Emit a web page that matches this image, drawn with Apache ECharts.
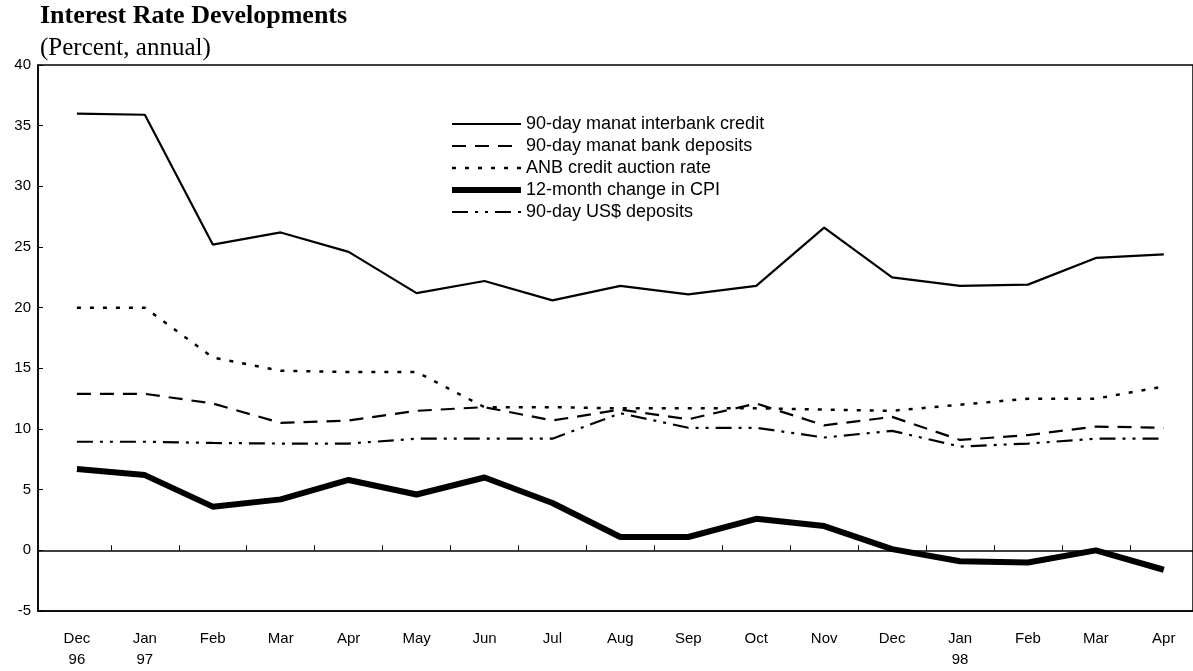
<!DOCTYPE html>
<html>
<head>
  <meta charset="utf-8">
  <title>Interest Rate Developments</title>
  <script src="https://cdn.jsdelivr.net/npm/echarts/dist/echarts.min.js"></script>
  <style>
    html, body { margin: 0; padding: 0; background: #fff; }
    #chart { width: 1193px; height: 671px; }
  </style>
</head>
<body>
<div id="chart"></div>
<script>
  // 月份标签 Dec 96 ... Apr 98
  var months = ['Dec', 'Jan', 'Feb', 'Mar', 'Apr', 'May', 'Jun', 'Jul', 'Aug', 'Sep', 'Oct', 'Nov', 'Dec', 'Jan', 'Feb', 'Mar', 'Apr'];
  var years = ['96', '97', '', '', '', '', '', '', '', '', '', '', '', '98', '', '', ''];
  var yTicks = [-5, 0, 5, 10, 15, 20, 25, 30, 35, 40];

  // 数据 (percent, annual)
  var interbankCredit = [36.0, 35.9, 25.2, 26.2, 24.6, 21.2, 22.2, 20.6, 21.8, 21.1, 21.8, 26.6, 22.5, 21.8, 21.9, 24.1, 24.4];
  var bankDeposits = [12.9, 12.9, 12.1, 10.5, 10.7, 11.5, 11.8, 10.7, 11.6, 10.8, 12.1, 10.3, 11.0, 9.1, 9.5, 10.2, 10.1];
  var anbAuction = [20.0, 20.0, 15.9, 14.8, 14.7, 14.7, 11.8, 11.8, 11.7, 11.7, 11.7, 11.6, 11.5, 12.0, 12.5, 12.5, 13.5];
  var cpiChange = [6.7, 6.2, 3.6, 4.2, 5.8, 4.6, 6.0, 3.9, 1.1, 1.1, 2.6, 2.0, 0.1, -0.9, -1.0, 0.0, -1.6];
  var usdDeposits = [8.95, 8.95, 8.85, 8.8, 8.8, 9.2, 9.2, 9.2, 11.3, 10.1, 10.1, 9.3, 9.85, 8.55, 8.8, 9.2, 9.2];

  var seriesNames = ['90-day manat interbank credit', '90-day manat bank deposits', 'ANB credit auction rate', '12-month change in CPI', '90-day US$ deposits'];

  function toPoints(arr) {
    return arr.map(function (v, i) { return [i, v]; });
  }

  var labelIdx = months.map(function (m, i) { return i; });
  var midIdx = months.slice(1).map(function (m, i) { return i + 0.5; });

  var chartDom = document.getElementById('chart');
  var myChart = echarts.init(chartDom);
  var option;

  option = {
    backgroundColor: '#fff',
    animation: false,
    title: [
      {
        text: 'Interest Rate Developments',
        left: 40,
        top: 3,
        padding: 0,
        textStyle: { fontFamily: 'Liberation Serif', fontSize: 26, fontWeight: 'bold', color: '#000' }
      },
      {
        text: '(Percent, annual)',
        left: 40,
        top: 36,
        padding: 0,
        textStyle: { fontFamily: 'Liberation Serif', fontSize: 25, fontWeight: 'normal', color: '#000' }
      }
    ],
    legend: {
      orient: 'vertical',
      left: 449,
      top: 115,
      padding: 0,
      itemWidth: 69,
      itemHeight: 14,
      itemGap: 4,
      data: seriesNames,
      itemStyle: { opacity: 0 },
      lineStyle: { width: 'inherit' },
      textStyle: { fontFamily: 'Liberation Sans', fontSize: 18, color: '#000' }
    },
    grid: {
      left: 38,
      top: 65,
      right: -3,
      bottom: 60,
      show: true,
      borderColor: '#000',
      borderWidth: 1.5
    },
    xAxis: [
      {
        type: 'value',
        position: 'bottom',
        min: -0.573,
        max: 16.43,
        splitLine: { show: false },
        axisLine: { onZero: false, lineStyle: { color: '#000', width: 1.5 } },
        axisTick: { show: false },
        axisLabel: {
          customValues: labelIdx,
          margin: 17,
          fontFamily: 'Liberation Sans',
          fontSize: 15,
          lineHeight: 21,
          color: '#000',
          formatter: function (v) {
            var i = Math.round(v);
            return years[i] ? months[i] + '\n' + years[i] : months[i];
          }
        }
      },
      {
        type: 'value',
        position: 'top',
        min: -0.573,
        max: 16.43,
        splitLine: { show: false },
        axisLine: { onZero: true, lineStyle: { color: '#000', width: 1.5 } },
        axisTick: { show: true, customValues: midIdx, length: 5, lineStyle: { color: '#000', width: 1 } },
        axisLabel: { show: false }
      }
    ],
    yAxis: {
      type: 'value',
      min: yTicks[0],
      max: yTicks[yTicks.length - 1],
      interval: 5,
      splitLine: { show: false },
      axisLine: { show: true, onZero: false, lineStyle: { color: '#000', width: 1.5 } },
      axisTick: { show: true, inside: true, length: 5, lineStyle: { color: '#000' } },
      axisLabel: { margin: 7, fontFamily: 'Liberation Sans', fontSize: 15, color: '#000' }
    },
    series: [
      {
        name: seriesNames[0],
        type: 'line',
        symbol: 'none',
        data: toPoints(interbankCredit),
        itemStyle: { color: '#000' },
        lineStyle: { color: '#000', width: 2.2 }
      },
      {
        name: seriesNames[1],
        type: 'line',
        symbol: 'none',
        data: toPoints(bankDeposits),
        itemStyle: { color: '#000' },
        lineStyle: { color: '#000', width: 2.2, type: [14, 9] }
      },
      {
        name: seriesNames[2],
        type: 'line',
        symbol: 'none',
        data: toPoints(anbAuction),
        itemStyle: { color: '#000' },
        lineStyle: { color: '#000', width: 2.5, type: [4, 9] }
      },
      {
        name: seriesNames[3],
        type: 'line',
        symbol: 'none',
        data: toPoints(cpiChange),
        itemStyle: { color: '#000' },
        lineStyle: { color: '#000', width: 6 }
      },
      {
        name: seriesNames[4],
        type: 'line',
        symbol: 'none',
        data: toPoints(usdDeposits),
        itemStyle: { color: '#000' },
        lineStyle: { color: '#000', width: 2.2, type: [16, 7, 3, 7, 3, 7] }
      }
    ]
  };

  option && myChart.setOption(option);

  window.onresize = function () {
    myChart.resize();
  };
</script>
</body>
</html>
